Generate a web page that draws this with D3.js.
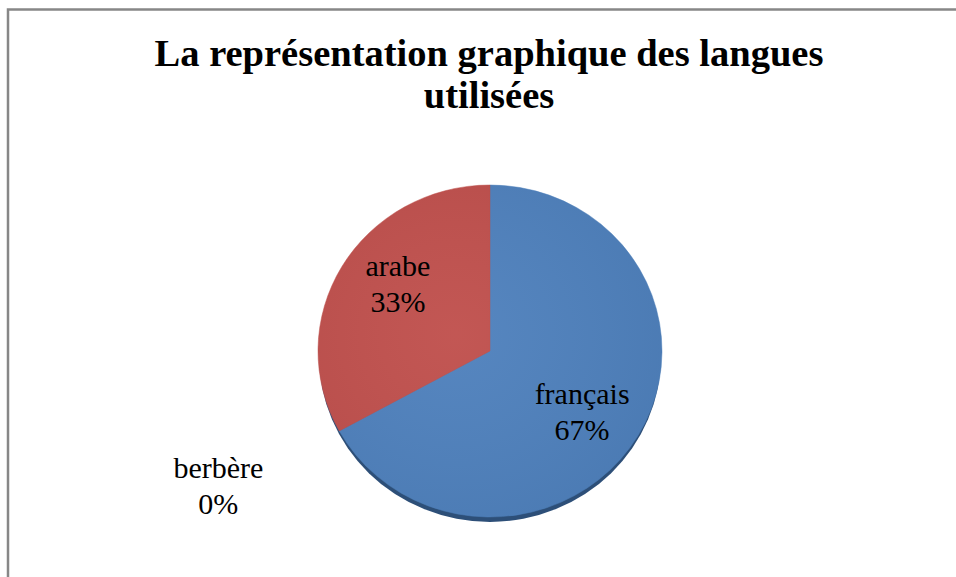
<!DOCTYPE html>
<html lang="fr">
<head>
<meta charset="utf-8">
<title>Langues utilisées</title>
<script src="https://cdn.jsdelivr.net/npm/d3@7/dist/d3.min.js"></script>
<style>
  body { margin: 0; background: #fff; }
  svg { display: block; }
  svg text { font-family: "Liberation Serif", "Times New Roman", Times, "DejaVu Serif", serif; }
</style>
</head>
<body>
<script>
// data
var langues = ["français", "berbère", "arabe"];
var valeurs = [67, 0, 33];
var couleurs = ["#4F81BD", "#4F81BD", "#C0504D"];
var titre = ["La représentation graphique des langues", "utilisées"];

var w = 956, h = 577;
var cx = 490, cy = 351;
var rx = 172, ry = 166;

var svg = d3.select("body").append("svg")
  .attr("width", w)
  .attr("height", h);

svg.append("rect")
  .attr("width", w).attr("height", h)
  .attr("fill", "#fff");

// chart frame (runs off the right and bottom of the picture)
svg.append("rect")
  .attr("x", 8).attr("y", 9.5)
  .attr("width", w + 20).attr("height", h + 20)
  .attr("fill", "none")
  .attr("stroke", "#878787")
  .attr("stroke-width", 2.5);

// title
svg.append("text")
  .attr("x", 489)
  .attr("y", 66)
  .attr("text-anchor", "middle")
  .attr("font-weight", "bold")
  .attr("font-size", "38.5px")
  .attr("fill", "#000")
  .selectAll("tspan")
  .data(titre)
  .enter()
  .append("tspan")
  .attr("x", 489)
  .attr("dy", function(d, i) { return i == 0 ? 0 : 42; })
  .text(function(d) { return d; });

var defs = svg.append("defs");
var grad = defs.append("radialGradient")
  .attr("id", "shade")
  .attr("cx", "40%").attr("cy", "45%").attr("r", "65%");
grad.append("stop").attr("offset", "0%").attr("stop-color", "#fff").attr("stop-opacity", 0.04);
grad.append("stop").attr("offset", "100%").attr("stop-color", "#000").attr("stop-opacity", 0.05);

var pie = d3.pie().sort(null).value(function(d) { return d; });
var arcs = pie(valeurs);
var arc = d3.arc().innerRadius(0).outerRadius(rx);

// dark rim at the bottom of the disc
svg.append("ellipse")
  .attr("cx", cx).attr("cy", cy + 5)
  .attr("rx", rx - 1).attr("ry", ry)
  .attr("fill", "#2D4F78");

var g = svg.append("g")
  .attr("transform", "translate(" + cx + "," + cy + ") scale(1," + (ry / rx) + ")");

g.selectAll("path.slice")
  .data(arcs)
  .enter()
  .append("path")
  .attr("class", "slice")
  .attr("d", arc)
  .attr("fill", function(d, i) { return couleurs[i]; })
  .attr("stroke", function(d, i) { return couleurs[i]; })
  .attr("stroke-width", 0.5);

g.append("circle")
  .attr("r", rx)
  .attr("fill", "url(#shade)");

// data labels
var lcx = 490, lcy = 358;
function labelPos(d) {
  var a = (d.startAngle + d.endAngle) / 2;
  var kx = d.value > 0 ? 107 : 310;
  var ky = d.value > 0 ? 126 : 287;
  return [lcx + Math.sin(a) * kx, lcy - Math.cos(a) * ky];
}

var total = d3.sum(valeurs);
var lab = svg.selectAll("text.lab")
  .data(arcs)
  .enter()
  .append("text")
  .attr("class", "lab")
  .attr("text-anchor", "middle")
  .attr("font-size", "30px")
  .attr("fill", "#000");

lab.append("tspan")
  .attr("x", function(d) { return labelPos(d)[0]; })
  .attr("y", function(d) { return labelPos(d)[1] - 18; })
  .text(function(d, i) { return langues[i]; });

lab.append("tspan")
  .attr("x", function(d) { return labelPos(d)[0]; })
  .attr("y", function(d) { return labelPos(d)[1] + 18; })
  .text(function(d) { return Math.round(d.value / total * 100) + "%"; });
</script>
</body>
</html>
